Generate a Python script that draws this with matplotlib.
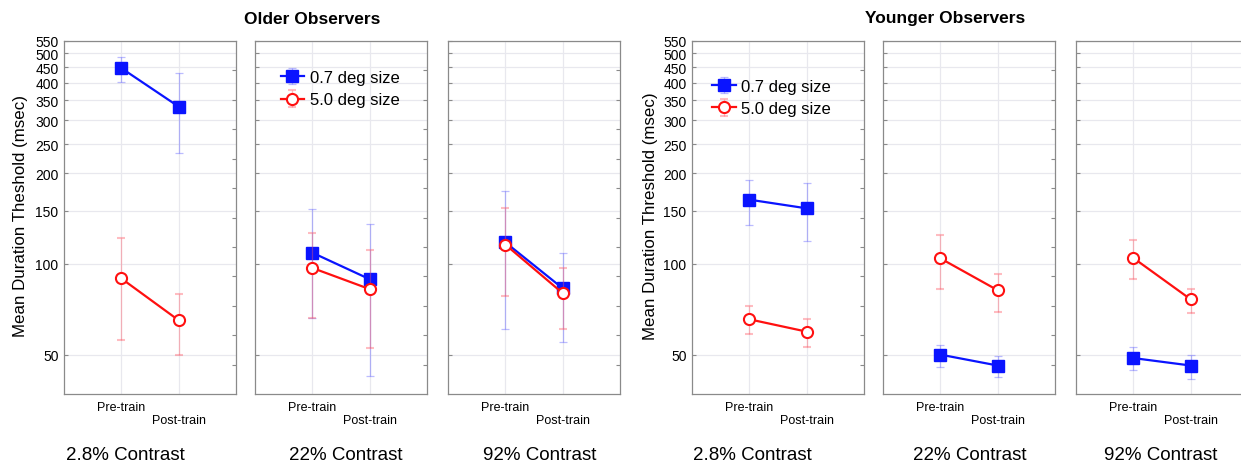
import matplotlib
matplotlib.use("Agg")
import matplotlib.pyplot as plt
import matplotlib.transforms as mtransforms
import numpy as np

plt.rcParams['font.family'] = ['Liberation Sans', 'DejaVu Sans']

# ---------------- data ----------------
contrasts = ["2.8% Contrast", "22% Contrast", "92% Contrast"]
sessions = ["Pre-train", "Post-train"]
series_labels = ["0.7 deg size", "5.0 deg size"]
group_titles = ["Older Observers", "Younger Observers"]
ylabels = ["Mean Duration Theshold (msec)", "Mean Duration Threshold (msec)"]
yticks = [50, 100, 150, 200, 250, 300, 350, 400, 450, 500, 550]

# Older observers: [contrast][session]
older_small_mean = [[447, 333], [109, 89], [118, 83]]
older_small_hi = [[485, 432], [152, 136], [175, 109]]
older_small_lo = [[403, 234], [66, 42.3], [61, 55]]
older_large_mean = [[89.5, 65], [97, 82.5], [116, 80]]
older_large_hi = [[122, 79.4], [127, 111], [153, 97]]
older_large_lo = [[56, 49.8], [66, 52.6], [78, 61]]

# Younger observers
younger_small_mean = [[163.5, 153], [50, 46], [48.7, 46]]
younger_small_hi = [[190, 186], [53.7, 49.4], [52.8, 50]]
younger_small_lo = [[135, 119], [45.6, 42.1], [44.5, 41.6]]
younger_large_mean = [[65.5, 59.6], [104.4, 81.8], [104.7, 76.3]]
younger_large_hi = [[72.4, 65.6], [125, 92.3], [120.4, 82.8]]
younger_large_lo = [[58.6, 52.9], [82.4, 69.4], [88.9, 68.9]]

# ---------------- layout ----------------
W, H = 1241, 464
fig = plt.figure(figsize=(W / 100, H / 100), dpi=100)

panel_left_px = [64, 255, 448, 692, 883, 1076]
panel_w_px = 172
top_px, bot_px = 42, 395
contrast_label_x_px = [125, 346, 540, 752, 970, 1161]

BLUE = "#0a14ff"
RED = "#ff1010"
GRID = "#e8e8ee"
SPINE = "#8a8a8a"

groups = [
    (older_small_mean, older_small_lo, older_small_hi,
     older_large_mean, older_large_lo, older_large_hi),
    (younger_small_mean, younger_small_lo, younger_small_hi,
     younger_large_mean, younger_large_lo, younger_large_hi),
]

xpos = np.array([1, 2])

for g, data in enumerate(groups):
    sm, slo, shi, lm, llo, lhi = data
    for c in range(3):
        k = g * 3 + c
        ax = fig.add_axes([panel_left_px[k] / W, 1 - bot_px / H,
                           panel_w_px / W, (bot_px - top_px) / H])
        ax.set_yscale('log')
        ax.set_ylim(37, 550)
        ax.set_xlim(0, 3)
        ax.set_xticks(xpos)
        ax.set_xticklabels([])
        ax.tick_params(axis='x', length=0)
        ax.set_yticks(yticks)
        ax.yaxis.set_minor_locator(matplotlib.ticker.NullLocator())
        if c == 0:
            ax.set_yticklabels([str(t) for t in yticks], fontsize=10)
        else:
            ax.set_yticklabels([])
        ax.tick_params(axis='y', direction='in', length=3, color=SPINE, pad=4)
        ax.grid(True, color=GRID, linewidth=0.9)
        ax.set_axisbelow(True)
        for s in ax.spines.values():
            s.set_color(SPINE)
            s.set_linewidth(0.9)

        # right-side inner ticks
        tw = ax.twinx()
        tw.set_ylim(0, 12)
        tw.set_yticks(range(1, 12))
        tw.set_yticklabels([])
        tw.tick_params(axis='y', direction='in', length=3, color=SPINE)
        for s in tw.spines.values():
            s.set_visible(False)

        m = np.array(sm[c]); lo = np.array(slo[c]); hi = np.array(shi[c])
        yerr = np.vstack([m - lo, hi - m])
        eb1 = ax.errorbar(xpos, m, yerr=yerr, color=BLUE, ecolor=(0.35, 0.35, 1.0, 0.4),
                          elinewidth=0.9, capsize=3, capthick=0.9,
                          marker='s', markersize=8, lw=1.6,
                          markerfacecolor=BLUE, markeredgecolor=BLUE,
                          label=series_labels[0], zorder=3)
        m = np.array(lm[c]); lo = np.array(llo[c]); hi = np.array(lhi[c])
        yerr = np.vstack([m - lo, hi - m])
        eb2 = ax.errorbar(xpos, m, yerr=yerr, color=RED, ecolor=(1.0, 0.35, 0.4, 0.4),
                          elinewidth=0.9, capsize=3, capthick=0.9,
                          marker='o', markersize=8, lw=1.6, mew=1.5,
                          markerfacecolor='white', markeredgecolor=RED,
                          label=series_labels[1], zorder=4)

        trans = mtransforms.blended_transform_factory(ax.transData, ax.transAxes)
        ax.text(xpos[0], -13 / (bot_px - top_px), sessions[0], transform=trans,
                ha='center', va='center', fontsize=9)
        ax.text(xpos[1], -26 / (bot_px - top_px), sessions[1], transform=trans,
                ha='center', va='center', fontsize=9)

        fig.text(contrast_label_x_px[k] / W, 1 - 456 / H, contrasts[c],
                 ha='center', va='center', fontsize=13.5)

        # legends
        if k == 1 or k == 3:
            anchor = (0.150, 0.918) if k == 1 else (0.118, 0.893)
            leg = ax.legend(handles=[eb1, eb2], loc='upper left',
                            bbox_to_anchor=anchor, frameon=False, fontsize=12,
                            borderpad=0, borderaxespad=0, handlelength=1.4,
                            handletextpad=0.35, labelspacing=0.45)

    ylab_x = [21, 650][g]
    fig.text(ylab_x / W, 1 - 216 / H, ylabels[g], rotation=90,
             ha='center', va='center', fontsize=12.2)
    title_x = [312, 945][g]
    fig.text(title_x / W, 1 - 19 / H, group_titles[g], ha='center', va='center',
             fontsize=12.5, fontweight='bold')

fig.savefig("out.png", dpi=100)
